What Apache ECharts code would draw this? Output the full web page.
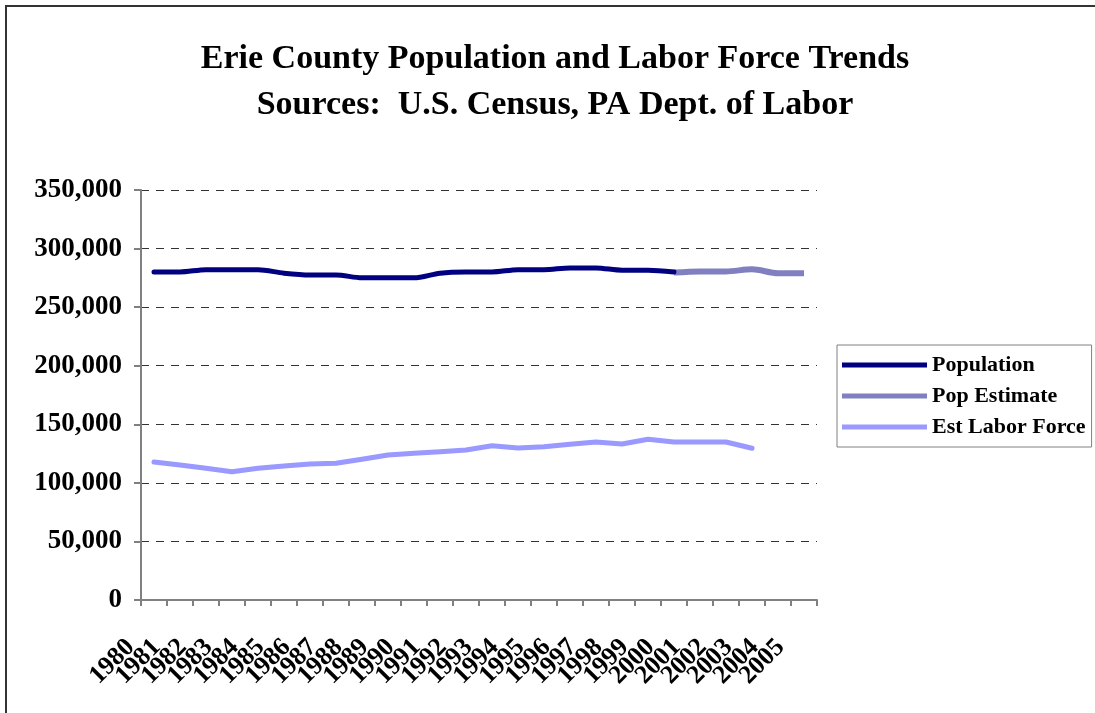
<!DOCTYPE html>
<html>
<head>
<meta charset="utf-8">
<title>Erie County Population and Labor Force Trends</title>
<script src="https://cdn.jsdelivr.net/npm/echarts@6/dist/echarts.min.js"></script>
<style>
  html, body { margin: 0; padding: 0; background: #fff; }
  #myChart { width: 1095px; height: 713px; }
</style>
</head>
<body>
<div id="myChart"></div>
<script>
// years on the x axis
var years = ['1980','1981','1982','1983','1984','1985','1986','1987','1988','1989',
  '1990','1991','1992','1993','1994','1995','1996','1997','1998','1999',
  '2000','2001','2002','2003','2004','2005'];

// census population 1980-2000
var population = [280000, 280000, 282000, 282000, 282000, 279000, 277500, 277500, 275000, 275000,
  275000, 279000, 280000, 280000, 282000, 282000, 283500, 283500, 281500, 281500,
  280000, null, null, null, null, null];

// population estimate 2000-2005
var popEstimate = [null, null, null, null, null, null, null, null, null, null,
  null, null, null, null, null, null, null, null, null, null,
  279500, 280500, 280500, 282300, 279000, 279000];

// estimated labor force
var laborForce = [117800, 115200, 112400, 109500, 112400, 114400, 116100, 116700, 120100, 123800,
  125200, 126600, 128000, 131700, 129800, 130900, 132900, 134900, 133200, 137200,
  134900, 134900, 134900, 129500, null, null];

var titleLines = ['Erie County Population and Labor Force Trends',
  'Sources:  U.S. Census, PA Dept. of Labor'];

var serif = "'Liberation Serif', 'Times New Roman', serif";

var myChart = echarts.init(document.getElementById('myChart'));

// title drawn as two graphic texts so it can sit a little right of centre like the original
function titleText(str, y) {
  return {
    type: 'text',
    silent: true,
    x: 555,
    y: y,
    style: {
      text: str,
      align: 'center',
      verticalAlign: 'middle',
      fontFamily: serif,
      fontWeight: 'bold',
      fontSize: 34,
      fill: '#000'
    }
  };
}

var option = {
  backgroundColor: '#fff',
  animation: false,
  legend: {
    orient: 'vertical',
    left: 837,
    top: 345,
    padding: [9, 6, 9, 5],
    itemGap: 9,
    itemWidth: 85,
    itemHeight: 5,
    icon: 'rect',
    borderColor: '#808080',
    borderWidth: 1,
    backgroundColor: '#fff',
    textStyle: {
      fontFamily: serif,
      fontWeight: 'bold',
      fontSize: 22,
      color: '#000'
    },
    data: ['Population', 'Pop Estimate', 'Est Labor Force']
  },
  graphic: [
    {
      type: 'rect',
      silent: true,
      shape: { x: 6, y: 6, width: 1200, height: 800 },
      style: { fill: 'none', stroke: '#333', lineWidth: 2 }
    },
    titleText(titleLines[0], 59),
    titleText(titleLines[1], 105)
  ],
  grid: {
    left: 141,
    right: 278,
    top: 190,
    bottom: 113
  },
  xAxis: {
    type: 'category',
    data: years,
    boundaryGap: true,
    axisLine: { lineStyle: { color: '#808080', width: 2 } },
    axisTick: { show: true, length: 6, lineStyle: { color: '#808080', width: 2 } },
    axisLabel: {
      interval: 0,
      rotate: 45,
      margin: 20,
      padding: [0, 33, 0, 0],
      fontFamily: serif,
      fontWeight: 'bold',
      fontSize: 26,
      color: '#000'
    },
    splitLine: { show: false }
  },
  yAxis: {
    type: 'value',
    min: 0,
    max: 350000,
    interval: 50000,
    axisLine: { show: true, lineStyle: { color: '#808080', width: 2 } },
    axisTick: { show: true, length: 7, lineStyle: { color: '#808080', width: 2 } },
    axisLabel: {
      margin: 19,
      fontFamily: serif,
      fontWeight: 'bold',
      fontSize: 27,
      color: '#000',
      formatter: function (v) { return v.toLocaleString('en-US'); }
    },
    splitLine: {
      show: true,
      lineStyle: { color: '#333', width: 1, type: [8, 7] }
    }
  },
  series: [
    {
      name: 'Population',
      type: 'line',
      data: population,
      symbol: 'none',
      smooth: 0.3,
      color: '#000080',
      lineStyle: { width: 5, color: '#000080', cap: 'round', join: 'round' },
      z: 3
    },
    {
      name: 'Pop Estimate',
      type: 'line',
      data: popEstimate,
      symbol: 'none',
      smooth: 0.3,
      color: '#8080C0',
      lineStyle: { width: 6, color: '#8080C0', cap: 'butt' },
      z: 2
    },
    {
      name: 'Est Labor Force',
      type: 'line',
      data: laborForce,
      symbol: 'none',
      color: '#9999FF',
      lineStyle: { width: 5, color: '#9999FF', cap: 'round', join: 'round' },
      z: 2
    }
  ]
};

myChart.setOption(option);
</script>
</body>
</html>
